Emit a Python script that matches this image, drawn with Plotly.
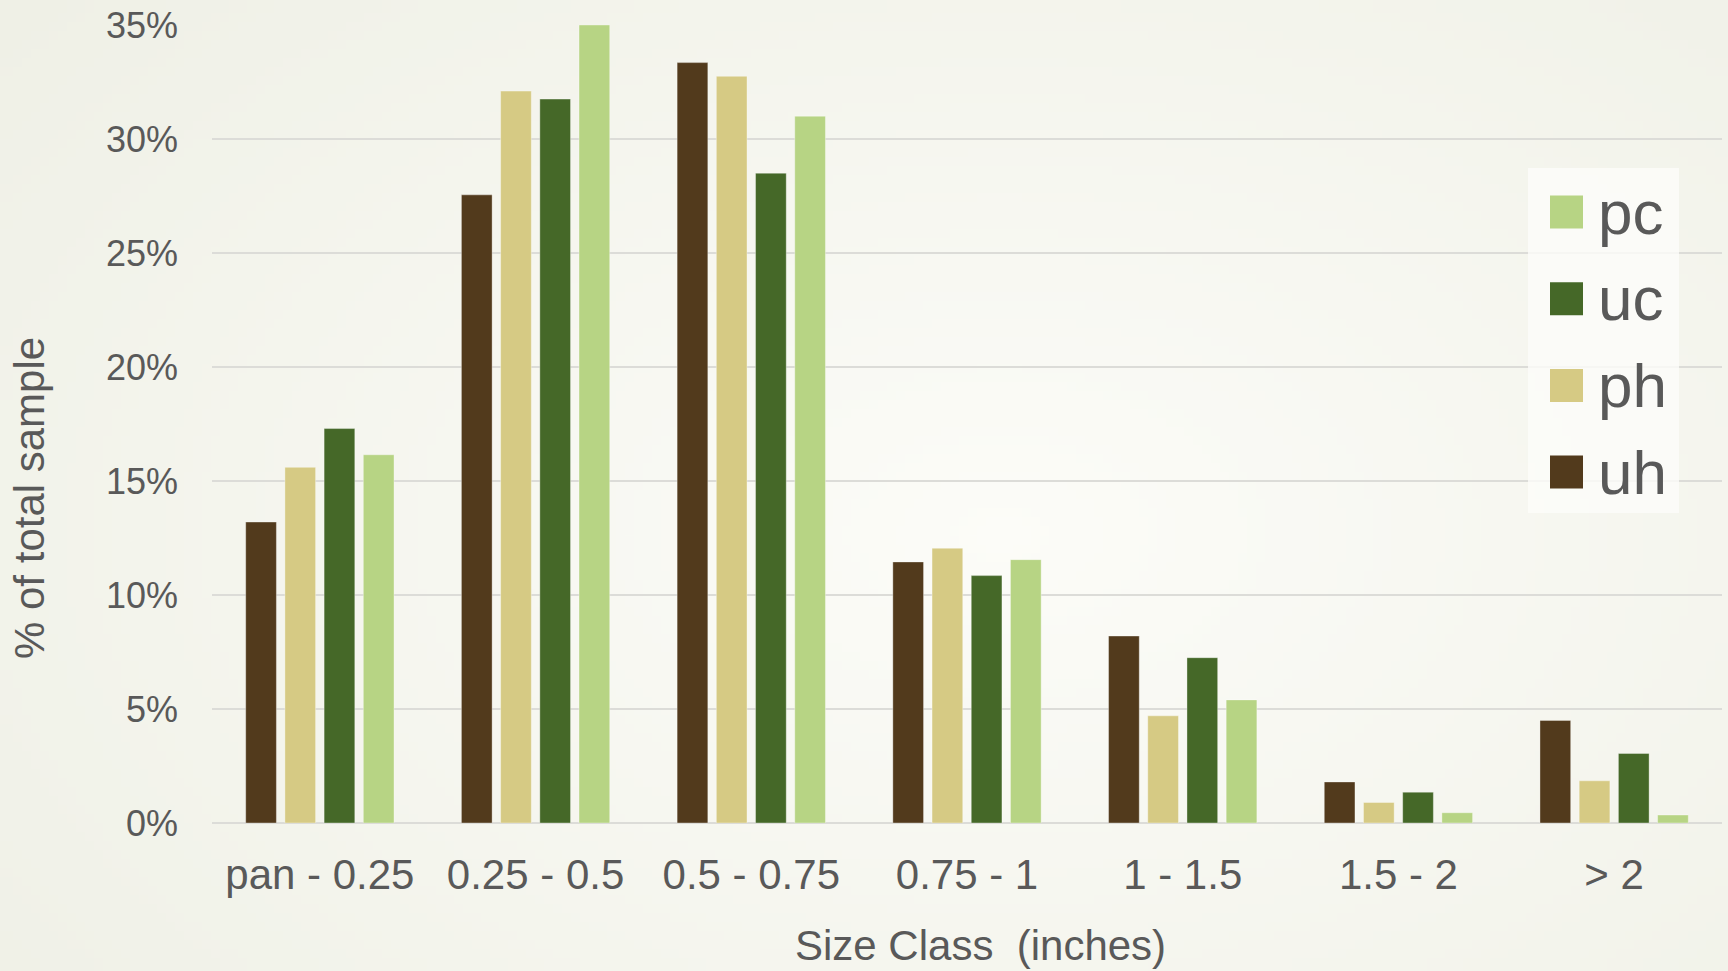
import base64
import struct
import zlib

import plotly.graph_objects as go

# Size classes (inches) and share of total sample (%) per group
size_classes = ["pan - 0.25", "0.25 - 0.5", "0.5 - 0.75", "0.75 - 1", "1 - 1.5", "1.5 - 2", "> 2"]
uh = [13.2, 27.55, 33.35, 11.45, 8.2, 1.8, 4.5]
ph = [15.6, 32.1, 32.75, 12.05, 4.7, 0.9, 1.85]
uc = [17.3, 31.75, 28.5, 10.85, 7.25, 1.35, 3.05]
pc = [16.15, 35.0, 31.0, 11.55, 5.4, 0.45, 0.35]

series_names = ["uh", "ph", "uc", "pc"]
series_values = [uh, ph, uc, pc]
series_colors = ["#523A1C", "#D6CA84", "#456828", "#B7D484"]

W, H = 1728, 971
ML, MR, MT, MB = 212, 6, 25, 148

TEXT = "#595959"
FONT = "Liberation Sans, Arial, sans-serif"


def soft_backdrop(w=192, h=108):
    """Pale cream backdrop, brightest towards the middle, as a PNG data URI."""
    rows = []
    for j in range(h):
        row = bytearray([0])
        for i in range(w):
            dx = (i / (w - 1) - 0.58) / 0.75
            dy = (j / (h - 1) - 0.55) / 0.85
            t = min(1.0, (dx * dx + dy * dy) ** 0.5)
            r = round(252 - 13 * t)
            g = round(252 - 12 * t)
            b = round(248 - 18 * t)
            row += bytes((r, g, b))
        rows.append(bytes(row))
    raw = b"".join(rows)

    def chunk(tag, data):
        c = tag + data
        return struct.pack(">I", len(data)) + c + struct.pack(">I", zlib.crc32(c) & 0xFFFFFFFF)

    png = (b"\x89PNG\r\n\x1a\n"
           + chunk(b"IHDR", struct.pack(">IIBBBBB", w, h, 8, 2, 0, 0, 0))
           + chunk(b"IDAT", zlib.compress(raw, 9))
           + chunk(b"IEND", b""))
    return "data:image/png;base64," + base64.b64encode(png).decode()


fig = go.Figure()
for name, vals, col in zip(series_names, series_values, series_colors):
    fig.add_trace(go.Bar(
        x=size_classes, y=vals, name=name,
        marker=dict(color=col, line=dict(color="rgba(255,255,255,0.35)", width=1)),
        showlegend=False,
    ))

# Pixel -> paper helpers for the legend panel and titles
pw, ph_ = W - ML - MR, H - MT - MB
def px_x(x):
    return (x - ML) / pw
def px_y(y):
    return (H - MB - y) / ph_

shapes = [dict(type="rect", xref="paper", yref="paper",
               x0=px_x(1528), x1=px_x(1679), y0=px_y(513), y1=px_y(168),
               fillcolor="rgba(252,252,250,0.8)", line=dict(width=0), layer="above")]
annotations = []
# legend entries listed top-down in reverse series order
for i, (name, col) in enumerate(zip(series_names[::-1], series_colors[::-1])):
    cy = 212 + i * 86.7
    shapes.append(dict(type="rect", xref="paper", yref="paper",
                       x0=px_x(1550), x1=px_x(1583), y0=px_y(cy + 16.5), y1=px_y(cy - 16.5),
                       fillcolor=col, line=dict(width=0), layer="above"))
    annotations.append(dict(xref="paper", yref="paper", x=px_x(1596), y=px_y(cy),
                            xanchor="left", yanchor="middle", text=name, showarrow=False,
                            font=dict(family=FONT, size=62, color=TEXT)))

# Axis titles
annotations.append(dict(xref="paper", yref="paper", x=px_x(980), y=px_y(946),
                        xanchor="center", yanchor="middle", text="Size Class  (inches)",
                        showarrow=False, font=dict(family=FONT, size=42, color=TEXT)))
annotations.append(dict(xref="paper", yref="paper", x=px_x(30), y=px_y(498),
                        xanchor="center", yanchor="middle", text="% of total sample",
                        textangle=-90, showarrow=False,
                        font=dict(family=FONT, size=42, color=TEXT)))

fig.update_layout(
    width=W, height=H,
    margin=dict(l=ML, r=MR, t=MT, b=MB, pad=0),
    paper_bgcolor="#F6F6F0",
    plot_bgcolor="rgba(0,0,0,0)",
    images=[dict(source=soft_backdrop(), xref="paper", yref="paper",
                 x=px_x(0), y=px_y(0), sizex=W / pw, sizey=H / ph_,
                 xanchor="left", yanchor="top", sizing="stretch", layer="below")],
    barmode="group", bargap=0.273, bargroupgap=0.217,
    font=dict(family=FONT, color=TEXT),
    shapes=shapes, annotations=annotations,
    xaxis=dict(
        tickfont=dict(size=42, color=TEXT),
        showgrid=False, showline=False, ticks="",
        ticklabelstandoff=23,
    ),
    yaxis=dict(
        range=[0, 35], dtick=5, ticksuffix="%",
        tickfont=dict(size=36, color=TEXT),
        showgrid=True, gridcolor="#DCDCD8", gridwidth=1.5,
        zeroline=True, zerolinecolor="#DCDCD8", zerolinewidth=1.5,
        showline=False, ticks="",
        ticklabelstandoff=33,
    ),
)

fig.write_html("out.html")
